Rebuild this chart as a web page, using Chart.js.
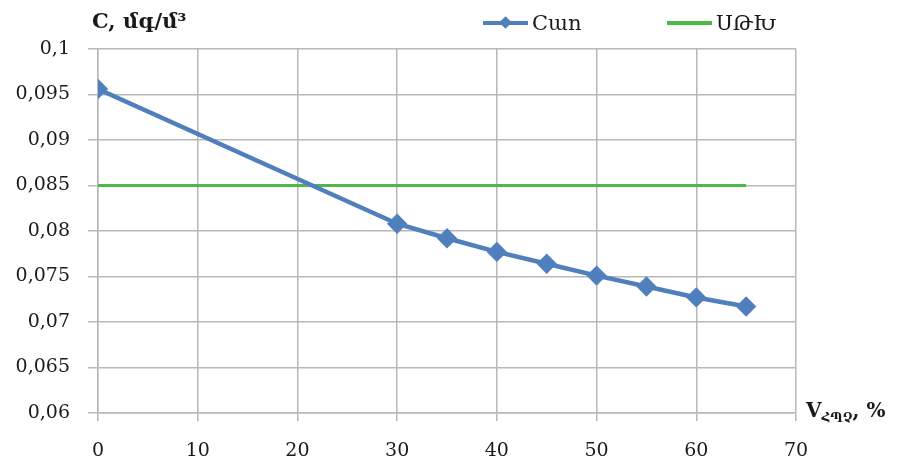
<!DOCTYPE html>
<html lang="hy">
<head>
    <meta charset="UTF-8">
    <title>C vs V</title>
    <script src="https://cdn.jsdelivr.net/npm/chart.js"></script>
    <style>
        body {
            margin: 0;
            background: #ffffff;
            font-family: "DejaVu Serif", serif;
            color: #1a1a1a;
        }

        .wrap {
            position: relative;
            width: 897px;
            height: 463px;
        }

        .ytitle {
            position: absolute;
            left: 92px;
            top: 8px;
            font-weight: bold;
            font-size: 21px;
        }

        .xtitle {
            position: absolute;
            left: 806px;
            top: 398px;
            font-weight: bold;
            font-size: 20px;
        }

        .xtitle sub {
            font-size: 12px;
        }

        .item {
            position: absolute;
            top: 11px;
            display: flex;
            align-items: center;
            font-size: 21px;
        }

        .swatch {
            position: relative;
            width: 45px;
            height: 4px;
            margin-right: 4px;
        }

        .swatch .dia {
            position: absolute;
            left: 18px;
            top: -3px;
            width: 9px;
            height: 9px;
            background: #4f7fbc;
            transform: rotate(45deg);
        }
    </style>
</head>
<body>
<div class="wrap">
    <canvas id="chart" width="897" height="463"></canvas>
    <div class="ytitle">C, մգ/մ³</div>
    <div class="xtitle">V<sub>ՀՊՉ</sub>, %</div>
    <div class="item" style="left:483px"><div class="swatch" style="background:#4f7fbc"><div class="dia"></div></div>Cաո</div>
    <div class="item" style="left:667px"><div class="swatch" style="background:#4cb848"></div>ՍԹԽ</div>
</div>

<script>
    // measured series
    const xValues = [0, 30, 35, 40, 45, 50, 55, 60, 65];
    const cValues = [0.0956, 0.0808, 0.0792, 0.0777, 0.0764, 0.0751, 0.0739, 0.0727, 0.0717];

    // limit line
    const limitX = [0, 65];
    const limitValue = 0.085;

    const seriesNames = ['Cաո', 'ՍԹԽ'];

    const gridColor = '#b8b8b8';
    const tickFont = { family: 'DejaVu Serif', size: 19 };

    new Chart(document.getElementById('chart'), {
        type: 'line',
        data: {
            datasets: [
                {
                    label: seriesNames[0],
                    data: xValues.map((x, i) => ({ x: x, y: cValues[i] })),
                    borderColor: '#4f7fbc',
                    backgroundColor: '#4f7fbc',
                    borderWidth: 4.5,
                    pointStyle: 'rectRot',
                    pointRadius: 7,
                    pointHoverRadius: 7,
                    tension: 0
                },
                {
                    label: seriesNames[1],
                    data: limitX.map(x => ({ x: x, y: limitValue })),
                    borderColor: '#4cb848',
                    backgroundColor: '#4cb848',
                    borderWidth: 3,
                    pointRadius: 0,
                    tension: 0
                }
            ]
        },
        options: {
            responsive: false,
            animation: false,
            layout: { padding: { left: 0, right: 101, top: 49, bottom: 0 } },
            plugins: {
                legend: { display: false },
                tooltip: { enabled: false }
            },
            scales: {
                x: {
                    type: 'linear',
                    min: 0,
                    max: 70,
                    ticks: { stepSize: 10, color: '#1a1a1a', font: tickFont, padding: 19, maxRotation: 0 },
                    grid: { color: gridColor, lineWidth: 1.5, tickLength: 8 },
                    border: { color: gridColor, width: 1.5 },
                    afterFit: s => { s.height = 50; }
                },
                y: {
                    min: 0.06,
                    max: 0.1,
                    ticks: {
                        stepSize: 0.005,
                        color: '#1a1a1a',
                        font: tickFont,
                        padding: 18,
                        callback: v => String(Number(v.toFixed(3))).replace('.', ',')
                    },
                    grid: { color: gridColor, lineWidth: 1.5, tickLength: 10 },
                    border: { color: gridColor, width: 1.5 },
                    afterFit: s => { s.width = 98; }
                }
            }
        }
    });
</script>
</body>
</html>
